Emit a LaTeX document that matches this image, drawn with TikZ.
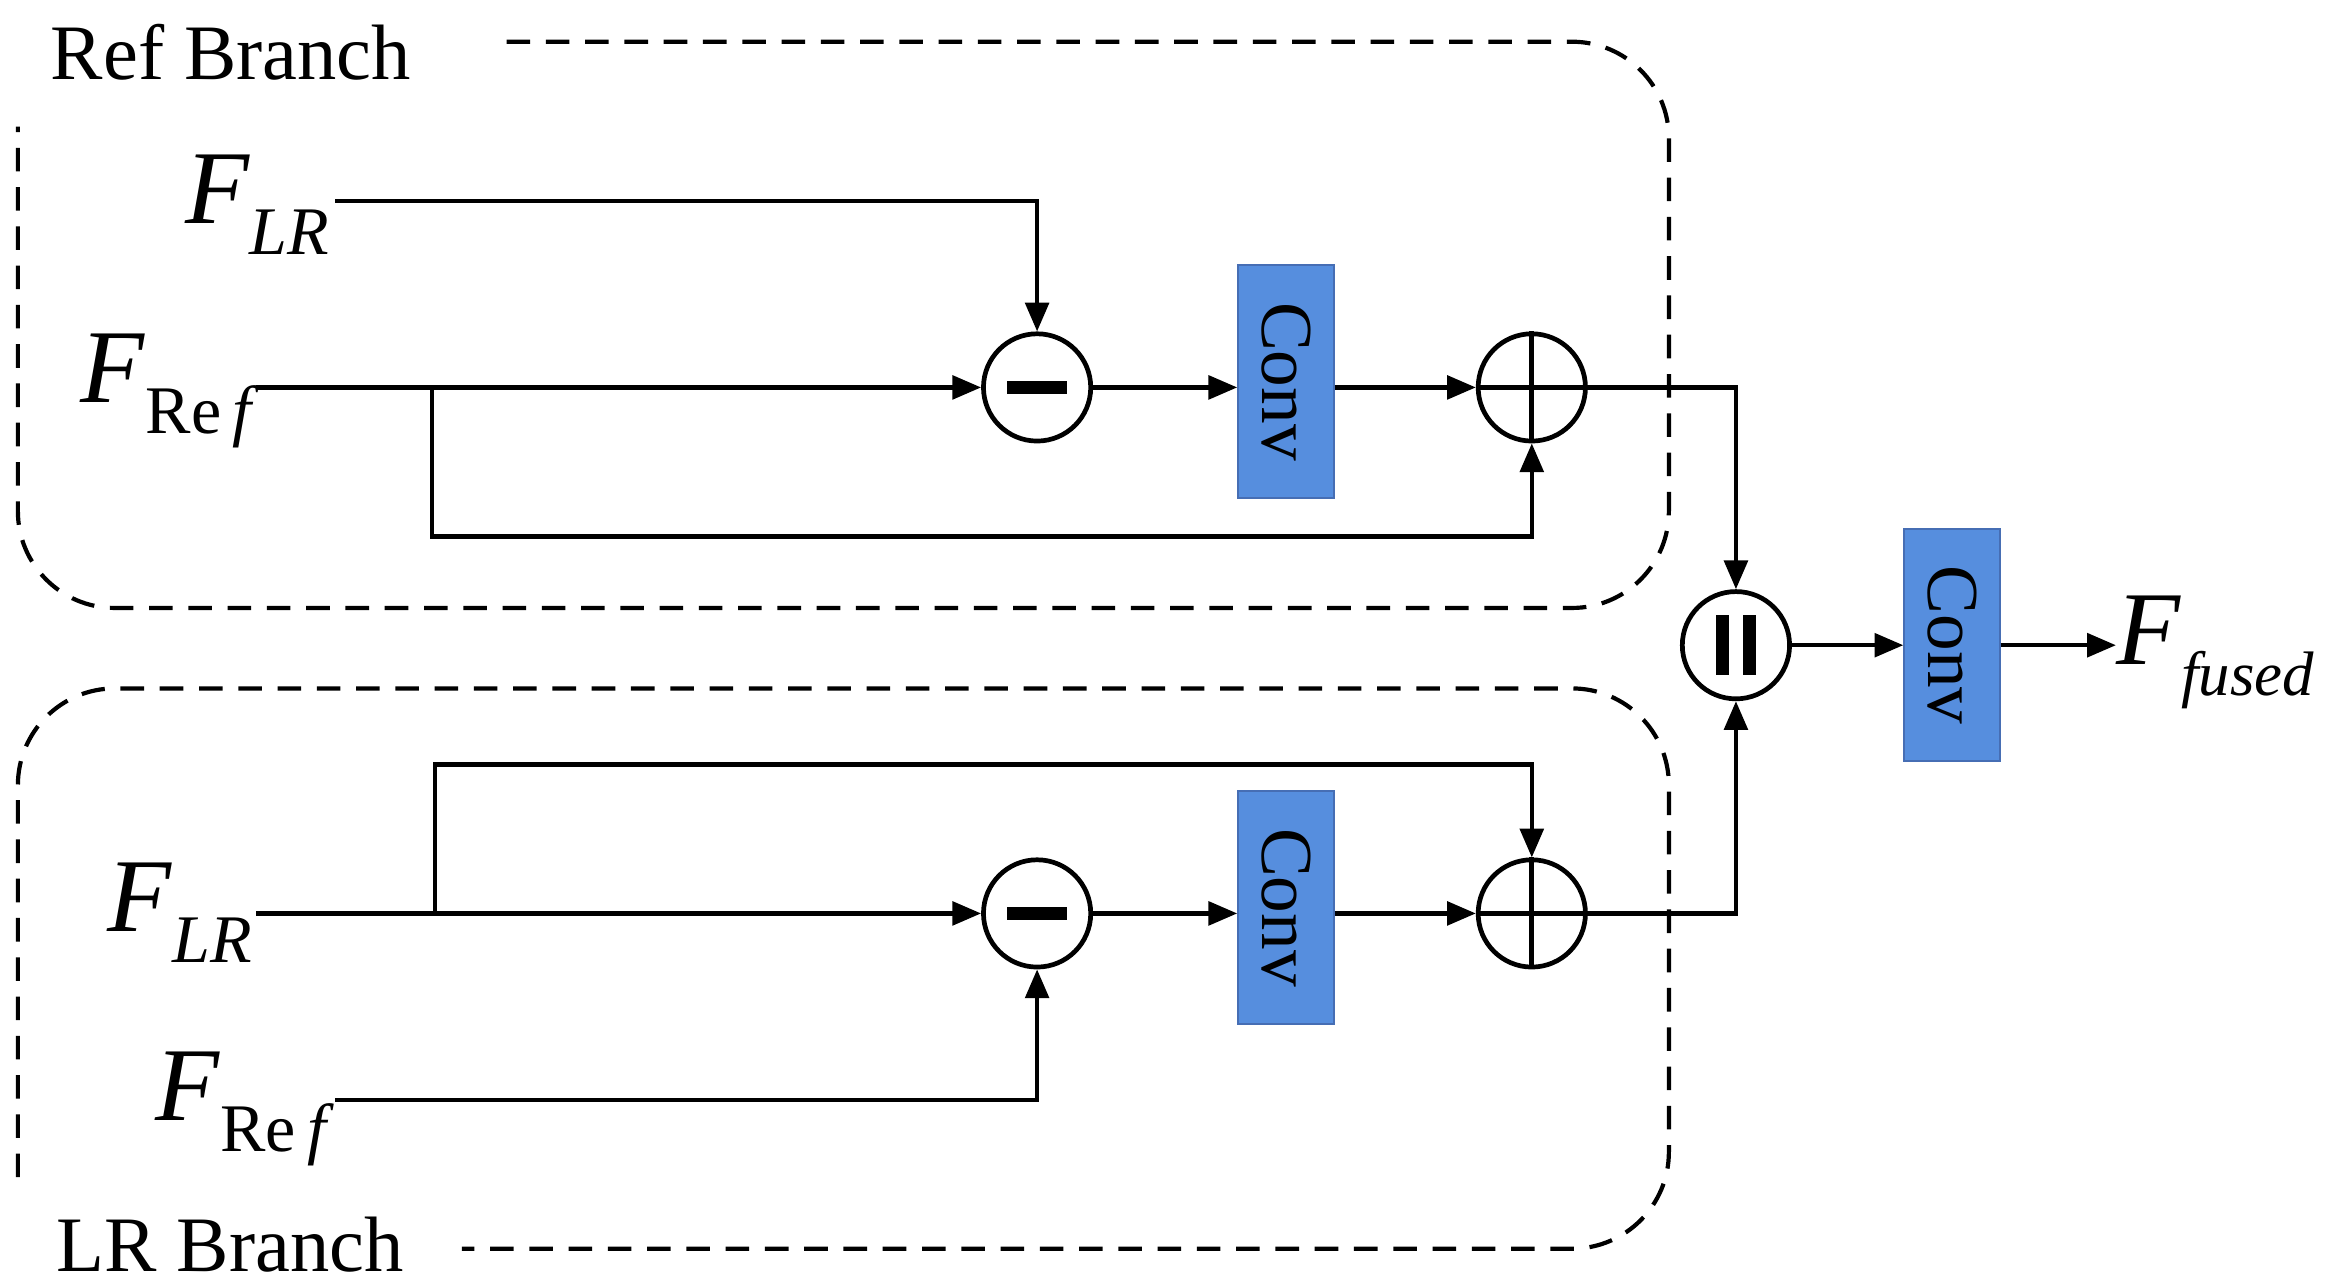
\documentclass[tikz,border=0pt]{standalone}
\usepackage{fontspec}
\setmainfont{Liberation Serif}
\usetikzlibrary{arrows.meta,calc}
\definecolor{convfill}{RGB}{86,142,222}
\definecolor{convdraw}{RGB}{70,110,180}
\begin{document}
\begin{tikzpicture}[x=0.02cm,y=-0.02cm,
 op/.style={circle,draw,line width=1.8pt,minimum size=1.44cm,inner sep=0pt},
 conv/.style={draw=convdraw,fill=convfill,line width=0.8pt,minimum width=1.28cm,minimum height=3.12cm,inner sep=0pt},
 convt/.style={rotate=-90,font=\fontsize{28}{30}\selectfont},
 ln/.style={line width=1.6pt},
 ar/.style={ln,-{Triangle[length=11pt,width=9pt]}},
 dsh/.style={line width=1.6pt,dash pattern=on 9pt off 6pt,rounded corners=1.3cm},
 lab/.style={font=\fontsize{40}{44}\selectfont,anchor=base west},
 big/.style={font=\fontsize{30}{34}\selectfont}]
\fill[white] (0,0) rectangle (1563,862);
\useasboundingbox (0,0) rectangle (1563,862);
% dashed boxes
\draw[dsh] (340,28) -- (1120,28) -- (1120,408) -- (12,408) -- (12,85);
\draw[dsh] (12,790) -- (12,462) -- (1120,462) -- (1120,838) -- (310,838);
\node[big,anchor=west] (t1) at (28,35) {Ref Branch};
\node[big,anchor=west] (t2) at (32,835) {LR Branch};
% top branch
\node[op] (m1) at (696,260) {};
\draw[line width=5pt] ($(m1)+(-20,0)$) -- ($(m1)+(20,0)$);
\node[conv] (c1) at (863,256) {}; \node[convt] at (c1) {Conv};
\node[op] (p1) at (1028,260) {};
\draw[line width=1.8pt] (p1.north) -- (p1.south) (p1.west) -- (p1.east);
\node[lab] (fl1) at (118,150) {\textit{F}\raisebox{-0.3em}{\fontsize{26}{28}\selectfont\textit{LR}}};
\node[lab] (fr1) at (48,270) {\textit{F}\raisebox{-0.3em}{\fontsize{26}{28}\selectfont Re\,\textit{f}}};
\coordinate (a1) at (225,135);
\coordinate (s1) at (290,260);
\draw[ar] (a1) -| (m1.north);
\draw[ar] (172,260) -- (m1.west);
\draw[ar] (m1.east) -- (c1.west |- m1.east);
\draw[ar] (c1.east |- p1.west) -- (p1.west);
\draw[ar] (s1) |- (700,360) -| (p1.south);
% bottom branch
\node[op] (m2) at (696,613) {};
\draw[line width=5pt] ($(m2)+(-20,0)$) -- ($(m2)+(20,0)$);
\node[conv] (c2) at (863,609) {}; \node[convt] at (c2) {Conv};
\node[op] (p2) at (1028,613) {};
\draw[line width=1.8pt] (p2.north) -- (p2.south) (p2.west) -- (p2.east);
\node[lab] (fl2) at (66,625) {\textit{F}\raisebox{-0.3em}{\fontsize{26}{28}\selectfont\textit{LR}}};
\node[lab] (fr2) at (98,752) {\textit{F}\raisebox{-0.3em}{\fontsize{26}{28}\selectfont Re\,\textit{f}}};
\coordinate (s2) at (292,613);
\draw[ar] (172,613) -- (m2.west);
\draw[ar] (m2.east) -- (c2.west |- m2.east);
\draw[ar] (c2.east |- p2.west) -- (p2.west);
\draw[ar] (s2) |- (700,513) -| (p2.north);
\draw[ar] (225,738) -| (m2.south);
% fusion
\node[op] (cc) at (1165,433) {};
\draw[line width=5pt] ($(cc)+(-9,-20)$) -- ($(cc)+(-9,20)$) ($(cc)+(9,-20)$) -- ($(cc)+(9,20)$);
\node[conv] (c3) at (1310,433) {}; \node[convt] at (c3) {Conv};
\node[lab,inner sep=0pt] (ff) at (1420,446) {\textit{F}\raisebox{-0.3em}{\fontsize{24}{26}\selectfont\textit{fused}}};
\draw[ar] (p1.east) -| (cc.north);
\draw[ar] (p2.east) -| (cc.south);
\draw[ar] (cc.east) -- (c3.west);
\draw[ar] (c3.east) -- (ff.west |- c3.east);
\end{tikzpicture}
\end{document}
